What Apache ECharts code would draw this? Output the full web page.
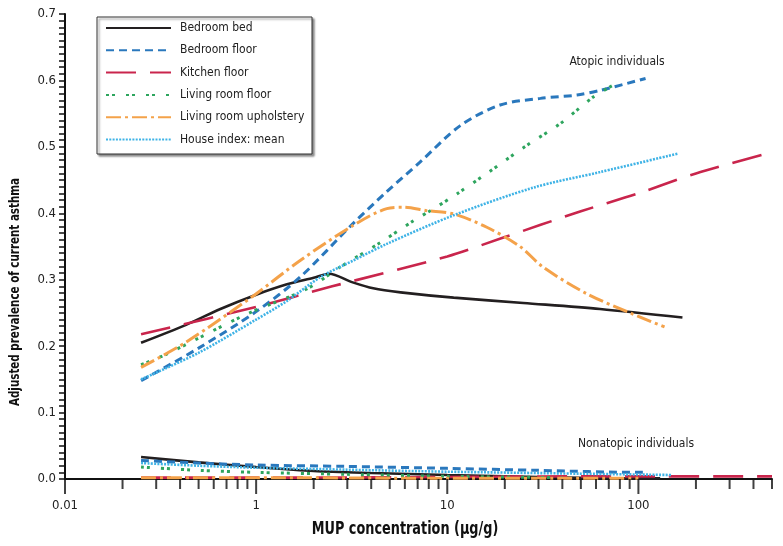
<!DOCTYPE html>
<html>
<head>
<meta charset="utf-8">
<script src="https://cdn.jsdelivr.net/npm/echarts@6/dist/echarts.min.js"></script>
<style>html,body{margin:0;padding:0;background:#fff}#c{width:783px;height:546px}</style>
</head>
<body>
<div id="c"></div>
<script>
// ---------- data ----------
const seriesNames = ['Bedroom bed', 'Bedroom floor', 'Kitchen floor', 'Living room floor', 'Living room upholstery', 'House index: mean'];

// Atopic individuals
const bedBedX   = [0.25, 0.43, 0.65, 0.97, 1.45, 2.0, 2.4, 3.2, 4.1, 5.7, 10.8, 25, 63, 170];
const bedBedY   = [0.205, 0.232, 0.256, 0.276, 0.293, 0.303, 0.309, 0.296, 0.287, 0.281, 0.273, 0.265, 0.256, 0.243];
const bedFloorX = [0.25, 0.5, 1.0, 1.7, 3.2, 4.8, 7.2, 11.7, 18.9, 30.7, 47.7, 63, 109];
const bedFloorY = [0.148, 0.197, 0.252, 0.304, 0.384, 0.432, 0.477, 0.532, 0.563, 0.573, 0.578, 0.585, 0.603];
const kitchenX  = [0.25, 1, 2.5, 10, 19, 50, 100, 200, 500];
const kitchenY  = [0.218, 0.259, 0.29, 0.335, 0.362, 0.403, 0.43, 0.46, 0.492];
const livFloorX = [0.25, 0.34, 0.89, 1.84, 2.75, 4.47, 6.68, 8.5, 11.2, 16.1, 26, 39, 58, 74];
const livFloorY = [0.172, 0.188, 0.248, 0.286, 0.319, 0.356, 0.389, 0.407, 0.429, 0.46, 0.502, 0.535, 0.575, 0.593];
const upholX    = [0.25, 0.43, 0.97, 1.7, 3.23, 4.83, 5.9, 7.8, 10.8, 16.1, 24, 31.7, 53.6, 94, 137];
const upholY    = [0.168, 0.206, 0.276, 0.329, 0.382, 0.407, 0.409, 0.404, 0.399, 0.379, 0.35, 0.319, 0.279, 0.248, 0.229];
const houseX    = [0.25, 0.5, 1.0, 1.45, 2.17, 3.23, 4.83, 10.8, 28.5, 63, 162];
const houseY    = [0.15, 0.19, 0.24, 0.268, 0.304, 0.329, 0.354, 0.397, 0.439, 0.462, 0.49];

// Nonatopic individuals
const nBedBedX   = [0.25, 0.5, 1, 2, 4, 10, 30, 100, 130];
const nBedBedY   = [0.033, 0.025, 0.018, 0.012, 0.009, 0.006, 0.003, 0.001, 0.001];
const nBedFloorX = [0.25, 0.5, 1, 3, 10, 30, 100, 110];
const nBedFloorY = [0.028, 0.024, 0.021, 0.019, 0.016, 0.013, 0.010, 0.010];
const nKitchenX  = [0.25, 1, 10, 50, 100, 500];
const nKitchenY  = [0.002, 0.002, 0.003, 0.004, 0.004, 0.004];
const nLivFloorX = [0.25, 0.5, 1, 3, 10, 40];
const nLivFloorY = [0.018, 0.013, 0.010, 0.007, 0.004, 0.002];
const nUpholX    = [0.25, 1, 10, 100];
const nUpholY    = [0.002, 0.002, 0.001, 0.001];
const nHouseX    = [0.25, 0.5, 1, 3, 10, 50, 150];
const nHouseY    = [0.024, 0.020, 0.017, 0.014, 0.011, 0.008, 0.006];

// axis ticks
const xMajorTicks = [0.1, 1, 10, 100];
const xMinorTicks = [0.2,0.3,0.4,0.5,0.6,0.7,0.8,0.9, 2,3,4,5,6,7,8,9, 20,30,40,50,60,70,80,90, 200,300,400,500];
const xTickLabels = {'0.1': '0.01', '1': '1', '10': '10', '100': '100'};
const yTickLabels = ['0.0','0.1','0.2','0.3','0.4','0.5','0.6','0.7'];

// ---------- chart ----------
const FONT = '"DejaVu Sans Condensed", "Liberation Sans Narrow", sans-serif';
const zip = (xs, ys) => xs.map((x, i) => [x, ys[i]]);

const styles = [
  {color: '#231f20', type: 'solid', width: 2.6},
  {color: '#2a78bd', type: [8, 5], width: 3},
  {color: '#c9254c', type: [30, 14], width: 2.6},
  {color: '#2ea55e', type: [3, 3, 3, 11], width: 3},
  {color: '#f4a24a', type: [15, 4, 3, 4], width: 3},
  {color: '#3fb3e6', type: [2, 1.3], width: 2.6}
];
const atopic = [zip(bedBedX, bedBedY), zip(bedFloorX, bedFloorY), zip(kitchenX, kitchenY),
                zip(livFloorX, livFloorY), zip(upholX, upholY), zip(houseX, houseY)];
const nonatopic = [zip(nBedBedX, nBedBedY), zip(nBedFloorX, nBedFloorY), zip(nKitchenX, nKitchenY),
                   zip(nLivFloorX, nLivFloorY), zip(nUpholX, nUpholY), zip(nHouseX, nHouseY)];

const series = [];
seriesNames.forEach((name, i) => {
  const st = styles[i];
  const base = {
    name, type: 'line', symbol: 'none', showSymbol: false, smooth: 0.3, silent: true,
    color: st.color,
    itemStyle: {color: st.color, opacity: 0},
    lineStyle: {color: st.color, type: st.type, width: st.width, cap: 'butt', opacity: 1},
    z: 3
  };
  series.push(Object.assign({}, base, {data: atopic[i]}));
  series.push(Object.assign({}, base, {data: nonatopic[i], z: 2}));
});
// tick marks below the x axis
series.push({
  type: 'scatter', silent: true, clip: false, z: 5,
  data: xMajorTicks.map(v => [v, 0]),
  symbol: 'rect', symbolSize: [2, 15], symbolOffset: [0, 7.5],
  itemStyle: {color: '#111'}
});
series.push({
  type: 'scatter', silent: true, clip: false, z: 5,
  data: xMinorTicks.map(v => [v, 0]),
  symbol: 'rect', symbolSize: [2, 10], symbolOffset: [0, 5],
  itemStyle: {color: '#111'}
});

const chart = echarts.init(document.getElementById('c'), null, {renderer: 'canvas'});
chart.setOption({
  animation: false,
  backgroundColor: '#fff',
  grid: {left: 65, right: 11, top: 14, bottom: 67, containLabel: false},
  xAxis: {
    type: 'log', logBase: 10, min: 0.1, max: 500,
    axisLine: {show: true, lineStyle: {color: '#111', width: 2}},
    axisTick: {show: false},
    minorTick: {show: false},
    splitLine: {show: false},
    axisLabel: {
      margin: 20, fontFamily: FONT, fontSize: 13, color: '#222',
      showMinLabel: true, showMaxLabel: false,
      formatter: v => {
        const k = String(+v.toPrecision(6));
        return xTickLabels[k] !== undefined ? xTickLabels[k] : '';
      }
    }
  },
  yAxis: {
    type: 'value', min: 0, max: 0.7, interval: 0.1,
    axisLine: {show: true, lineStyle: {color: '#111', width: 2}},
    axisTick: {show: true, inside: false, length: 6, lineStyle: {color: '#111', width: 1.5}},
    minorTick: {show: true, splitNumber: 10, length: 6, lineStyle: {color: '#111', width: 1.5}},
    splitLine: {show: false},
    axisLabel: {
      margin: 9, fontFamily: FONT, fontSize: 13, color: '#222',
      formatter: v => yTickLabels[Math.round(v * 10)]
    }
  },
  legend: {
    data: seriesNames,
    orient: 'vertical', left: 105, top: 21, padding: 0,
    itemWidth: 65, itemHeight: 14, itemGap: 8.3,
    itemStyle: {opacity: 0},
    textStyle: {fontFamily: FONT, fontSize: 12, color: '#222', lineHeight: 14, padding: [0, 0, 0, 4]},
    selectedMode: false
  },
  graphic: [
    {type: 'rect', z: -1, shape: {x: 97, y: 17, width: 215, height: 137},
     style: {fill: '#fff', stroke: '#333', lineWidth: 1, shadowColor: 'rgba(0,0,0,0.45)', shadowBlur: 2, shadowOffsetX: 2, shadowOffsetY: 2}},
    {type: 'text', x: 617, y: 62, style: {text: 'Atopic individuals', font: '12px ' + FONT, fill: '#222', textAlign: 'center', textVerticalAlign: 'middle'}},
    {type: 'text', x: 636, y: 444, style: {text: 'Nonatopic individuals', font: '12px ' + FONT, fill: '#222', textAlign: 'center', textVerticalAlign: 'middle'}},
    {type: 'text', x: 405, y: 530, scaleX: 0.84, style: {text: 'MUP concentration (μg/g)', font: 'bold 17px ' + FONT, fill: '#111', textAlign: 'center', textVerticalAlign: 'middle'}},
    {type: 'text', x: 15, y: 292, rotation: Math.PI / 2, scaleX: 0.82, style: {text: 'Adjusted prevalence of current asthma', font: 'bold 14px ' + FONT, fill: '#111', textAlign: 'center', textVerticalAlign: 'middle'}}
  ],
  series
});
</script>
</body>
</html>
